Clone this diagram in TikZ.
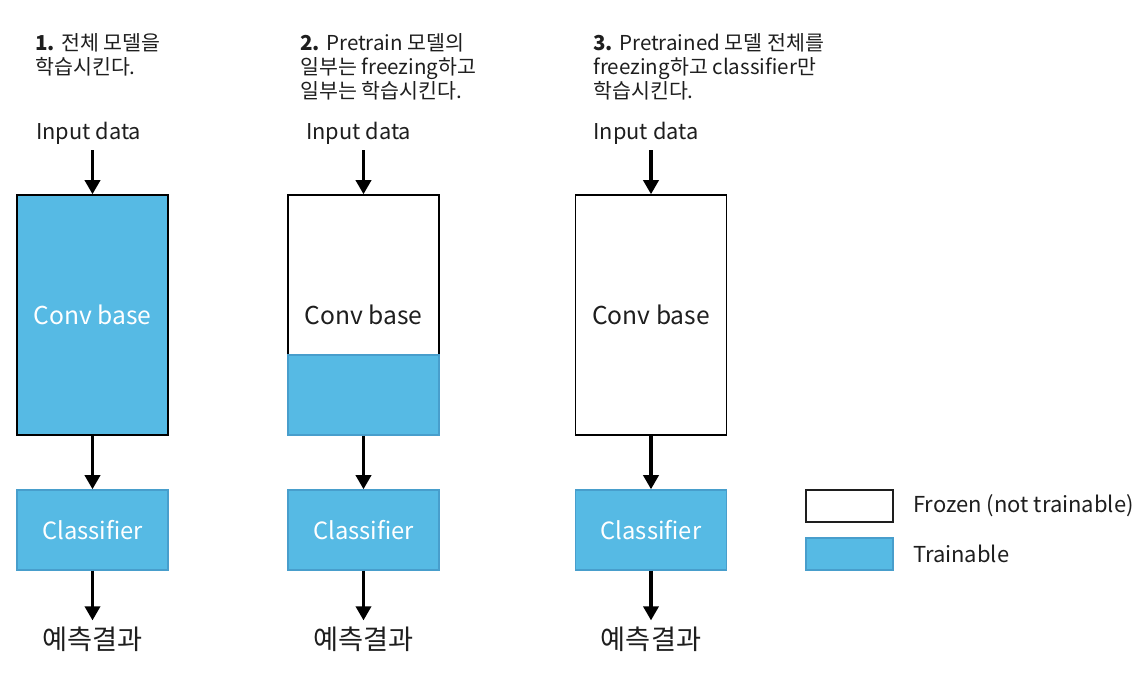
\documentclass[tikz,border=0pt]{standalone}
\usepackage{fontspec}
\setmainfont{Noto Sans CJK KR}
\usepackage{tikz}
\usetikzlibrary{arrows.meta}
\definecolor{trainblue}{RGB}{86,186,228}
\definecolor{trainedge}{RGB}{72,158,204}
\definecolor{inkgray}{RGB}{30,30,30}
\tikzset{
  convbox/.style  = { draw=black, line width=0.8pt, minimum width=3.02cm, minimum height=4.8cm, font=\fontsize{14}{16}\selectfont },
  clsbox/.style   = { draw=trainedge, line width=0.8pt, fill=trainblue, text=white, minimum width=3.02cm, minimum height=1.6cm, font=\fontsize{13.5}{16}\selectfont },
  flow/.style     = { line width=2.1pt, black, -{Triangle[width=8.5pt,length=8pt]} },
  heading/.style  = { anchor=north west, align=left, inner sep=0pt, text=inkgray, font=\fontsize{11.7}{13.6}\selectfont },
  datain/.style   = { text=inkgray, font=\fontsize{12.4}{14}\selectfont },
  result/.style   = { text=inkgray, font=\fontsize{15.5}{17}\selectfont },
  legendbox/.style= { draw, line width=0.8pt, minimum width=1.74cm, minimum height=0.64cm },
  legendtxt/.style= { anchor=west, text=inkgray, font=\fontsize{12.5}{14}\selectfont }
}
\begin{document}
\begin{tikzpicture}
  \useasboundingbox (0,0) rectangle (22.88,13.5);
  % Draw headings
  \node[heading] (head1) at (0.7,12.84)  {\textbf{1.} 전체 모델을\\학습시킨다.};
  \node[heading] (head2) at (6.0,12.84)  {\textbf{2.} Pretrain 모델의\\일부는 freezing하고\\일부는 학습시킨다.};
  \node[heading] (head3) at (11.86,12.84) {\textbf{3.} Pretrained 모델 전체를\\freezing하고 classifier만\\학습시킨다.};
  % Draw inputs
  \node[datain] (in1) at (1.77,10.84)  {Input data};
  \node[datain] (in2) at (7.17,10.84)  {Input data};
  \node[datain] (in3) at (12.92,10.84) {Input data};
  % Draw conv bases
  \node[convbox, fill=trainblue, text=white] (conv1) at (1.85,7.2) {Conv base};
  \node[convbox, fill=white, text=inkgray] (conv2) at (7.27,7.2) {};
  \node[draw=trainedge, line width=0.8pt, fill=trainblue, minimum width=3.02cm, minimum height=1.6cm, anchor=south] (part2) at (conv2.south) {};
  \node[text=inkgray, font=\fontsize{14}{16}\selectfont] (lab2) at (conv2.center) {Conv base};
  \node[convbox, fill=white, text=inkgray] (conv3) at (13.02,7.2) {Conv base};
  % Draw classifiers
  \node[clsbox] (cls1) at (1.85,2.9)  {Classifier};
  \node[clsbox] (cls2) at (7.27,2.9)  {Classifier};
  \node[clsbox] (cls3) at (13.02,2.9) {Classifier};
  % Draw outputs
  \node[result] (out1) at (1.85,0.72)  {예측결과};
  \node[result] (out2) at (7.27,0.72)  {예측결과};
  \node[result] (out3) at (13.02,0.72) {예측결과};
  % Draw arrows
  \draw[flow] (in1.south -| conv1.north) -- (conv1.north);
  \draw[flow] (in2.south -| conv2.north) -- (conv2.north);
  \draw[flow] (in3.south -| conv3.north) -- (conv3.north);
  \draw[flow] (conv1) -- (cls1);
  \draw[flow] (part2) -- (cls2);
  \draw[flow] (conv3) -- (cls3);
  \draw[flow] (cls1) -- (out1);
  \draw[flow] (cls2) -- (out2);
  \draw[flow] (cls3) -- (out3);
  % Draw legend
  \node[legendbox, draw=inkgray, fill=white] (frozen) at (16.99,3.38) {};
  \node[legendbox, draw=trainedge, fill=trainblue] (trainable) at (16.99,2.42) {};
  \node[legendtxt] (frozentxt) at (18.14,3.38) {Frozen (not trainable)};
  \node[legendtxt] (trainabletxt) at (18.14,2.42) {Trainable};
\end{tikzpicture}
\end{document}
